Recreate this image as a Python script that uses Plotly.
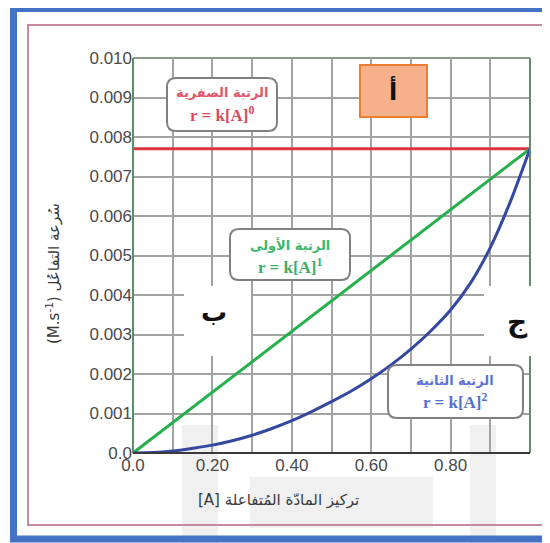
import plotly.graph_objects as go

# ---------------- data ----------------
conc_line = [0.0, 1.0]
zero_order_rate = [0.0077, 0.0077]
first_order_rate = [0.0, 0.0077]
second_order_conc = [0.0, 0.05, 0.1, 0.15, 0.2, 0.25, 0.3, 0.35, 0.4, 0.45, 0.5,
                     0.55, 0.6, 0.65, 0.7, 0.75, 0.8, 0.85, 0.9, 0.95, 1.0]
second_order_rate = [0.0, 0.00001, 0.00005, 0.00012, 0.0002, 0.00031, 0.00045, 0.00062,
                     0.00082, 0.00105, 0.0013, 0.00157, 0.00188, 0.00223, 0.00263,
                     0.00309, 0.00362, 0.0043, 0.0052, 0.00635, 0.0077]

x_tickvals = [0.0, 0.1, 0.2, 0.3, 0.4, 0.5, 0.6, 0.7, 0.8, 0.9, 1.0]
x_ticktext = ["0.0", "", "0.20", "", "0.40", "", "0.60", "", "0.80", "", ""]
y_tickvals = [0.0, 0.001, 0.002, 0.003, 0.004, 0.005, 0.006, 0.007, 0.008, 0.009, 0.010]
y_ticktext = ["0.0", "0.001", "0.002", "0.003", "0.004", "0.005", "0.006",
              "0.007", "0.008", "0.009", "0.010"]

W, H = 550, 543
OFF = 8  # page body margin of the html page


def X(px):
    return (px - OFF) / W


def Y(py):
    return 1 - (py - OFF) / H


def rrect(x0, y0, x1, y1, r):
    pts = [
        f"M{X(x0 + r)},{Y(y0)}",
        f"L{X(x1 - r)},{Y(y0)}",
        f"Q{X(x1)},{Y(y0)} {X(x1)},{Y(y0 + r)}",
        f"L{X(x1)},{Y(y1 - r)}",
        f"Q{X(x1)},{Y(y1)} {X(x1 - r)},{Y(y1)}",
        f"L{X(x0 + r)},{Y(y1)}",
        f"Q{X(x0)},{Y(y1)} {X(x0)},{Y(y1 - r)}",
        f"L{X(x0)},{Y(y0 + r)}",
        f"Q{X(x0)},{Y(y0)} {X(x0 + r)},{Y(y0)}",
        "Z",
    ]
    return " ".join(pts)


fig = go.Figure()
fig.add_trace(go.Scatter(x=conc_line, y=zero_order_rate, mode="lines",
                         line=dict(color="#D9343F", width=3), hoverinfo="skip"))
fig.add_trace(go.Scatter(x=conc_line, y=first_order_rate, mode="lines",
                         line=dict(color="#25B04C", width=3), hoverinfo="skip"))
fig.add_trace(go.Scatter(x=second_order_conc, y=second_order_rate, mode="lines",
                         line=dict(color="#3548A0", width=3, shape="spline", smoothing=0.8),
                         hoverinfo="skip"))

shapes = []
# faint watermark pieces
for (a, b, c, d) in [(182, 425, 218, 560), (470, 425, 496, 560), (250, 477, 433, 528)]:
    shapes.append(dict(type="rect", xref="paper", yref="paper", x0=X(a), x1=X(c), y0=Y(d), y1=Y(b),
                       fillcolor="#F0F0F0", line=dict(width=0), layer="below"))
# outer blue frame
shapes.append(dict(type="rect", xref="paper", yref="paper", x0=X(13.5), x1=X(620), y0=Y(539), y1=Y(8.5),
                   line=dict(color="#4472C4", width=7), fillcolor="rgba(0,0,0,0)", layer="above"))
# inner pink frame
shapes.append(dict(type="rect", xref="paper", yref="paper", x0=X(28), x1=X(543), y0=Y(525), y1=Y(25),
                   line=dict(color="#C98A9C", width=2), fillcolor="rgba(0,0,0,0)", layer="above"))
# plot borders
shapes.append(dict(type="line", xref="x domain", yref="y domain", x0=0, x1=1, y0=1, y1=1,
                   line=dict(color="#8C9A8C", width=2), layer="above"))
shapes.append(dict(type="line", xref="x domain", yref="y domain", x0=0, x1=0, y0=0, y1=1,
                   line=dict(color="#5E8E68", width=2), layer="above"))
shapes.append(dict(type="line", xref="x domain", yref="y domain", x0=1, x1=1, y0=0, y1=1,
                   line=dict(color="#5E8E68", width=2), layer="above"))
shapes.append(dict(type="line", xref="x domain", yref="y domain", x0=0, x1=1, y0=0, y1=0,
                   line=dict(color="#3A3A3A", width=2), layer="above"))
# label boxes
for (a, b, c, d) in [(167, 78, 277, 131), (230, 229, 350, 280), (388, 365, 523, 418)]:
    shapes.append(dict(type="path", xref="paper", yref="paper", path=rrect(a, b, c, d, 9),
                       line=dict(color="#808080", width=2), fillcolor="white", layer="above"))
# orange box
shapes.append(dict(type="rect", xref="paper", yref="paper", x0=X(360), x1=X(427), y0=Y(117), y1=Y(65),
                   line=dict(color="#ED7D31", width=2), fillcolor="#F5B08C", layer="above"))
# white patches
for (a, b, c, d) in [(184, 286, 251, 356), (484, 286, 580, 356)]:
    shapes.append(dict(type="rect", xref="paper", yref="paper", x0=X(a), x1=X(c), y0=Y(d), y1=Y(b),
                       fillcolor="white", line=dict(width=0), layer="above"))

ar_font = "DejaVu Sans"
ser_font = "Liberation Serif"
annotations = []


def txt(x, y, text, size, color, family, angle=0):
    annotations.append(dict(x=X(x), y=Y(y), xref="paper", yref="paper", text=text, showarrow=False,
                            font=dict(size=size, color=color, family=family), textangle=angle,
                            xanchor="center", yanchor="middle"))


txt(222, 93, "<b>الرتبة الصفرية</b>", 13, "#E0566A", ar_font)
txt(222, 114, "<b>r = k[A]<sup>0</sup></b>", 17, "#D94A5E", ser_font)
txt(290, 245, "<b>الرتبة الأولى</b>", 13, "#3DB86A", ar_font)
txt(290, 266, "<b>r = k[A]<sup>1</sup></b>", 17, "#3AAE68", ser_font)
txt(455, 380, "<b>الرتبة الثانية</b>", 13, "#5B73D6", ar_font)
txt(455, 401, "<b>r = k[A]<sup>2</sup></b>", 17, "#5570D0", ser_font)
txt(393, 91, "<b>أ</b>", 24, "#111111", ar_font)
txt(214, 312, "<b>ب</b>", 26, "#111111", ar_font)
txt(517, 322, "<b>ج</b>", 28, "#111111", ar_font)
# axis titles
txt(278, 500, "[A] تركيز المادّة المُتفاعلة", 15, "#3A3A3A", ar_font)
txt(53, 274, "(M.s<sup>-1</sup>) سُرعة التفاعُل", 15, "#3A3A3A", ar_font, angle=-90)

tickfont = dict(family="Liberation Sans, Arial", size=17, color="#4A4A4A")
fig.update_layout(
    width=W, height=H,
    margin=dict(l=0, r=0, t=0, b=0, autoexpand=False),
    paper_bgcolor="white",
    plot_bgcolor="rgba(0,0,0,0)",
    showlegend=False,
    shapes=shapes,
    annotations=annotations,
    xaxis=dict(domain=[X(133), X(530)], range=[0, 1.0], tickvals=x_tickvals, ticktext=x_ticktext,
               showgrid=True, gridcolor="#A3A3A3", gridwidth=1.5, zeroline=False, showline=False,
               ticks="", tickfont=tickfont, fixedrange=True, automargin=False),
    yaxis=dict(domain=[Y(453), Y(58)], range=[0, 0.010], tickvals=y_tickvals, ticktext=y_ticktext,
               showgrid=True, gridcolor="#A3A3A3", gridwidth=1.5, zeroline=False, showline=False,
               ticks="", tickfont=tickfont, fixedrange=True, automargin=False),
)

fig.write_html("out.html")
